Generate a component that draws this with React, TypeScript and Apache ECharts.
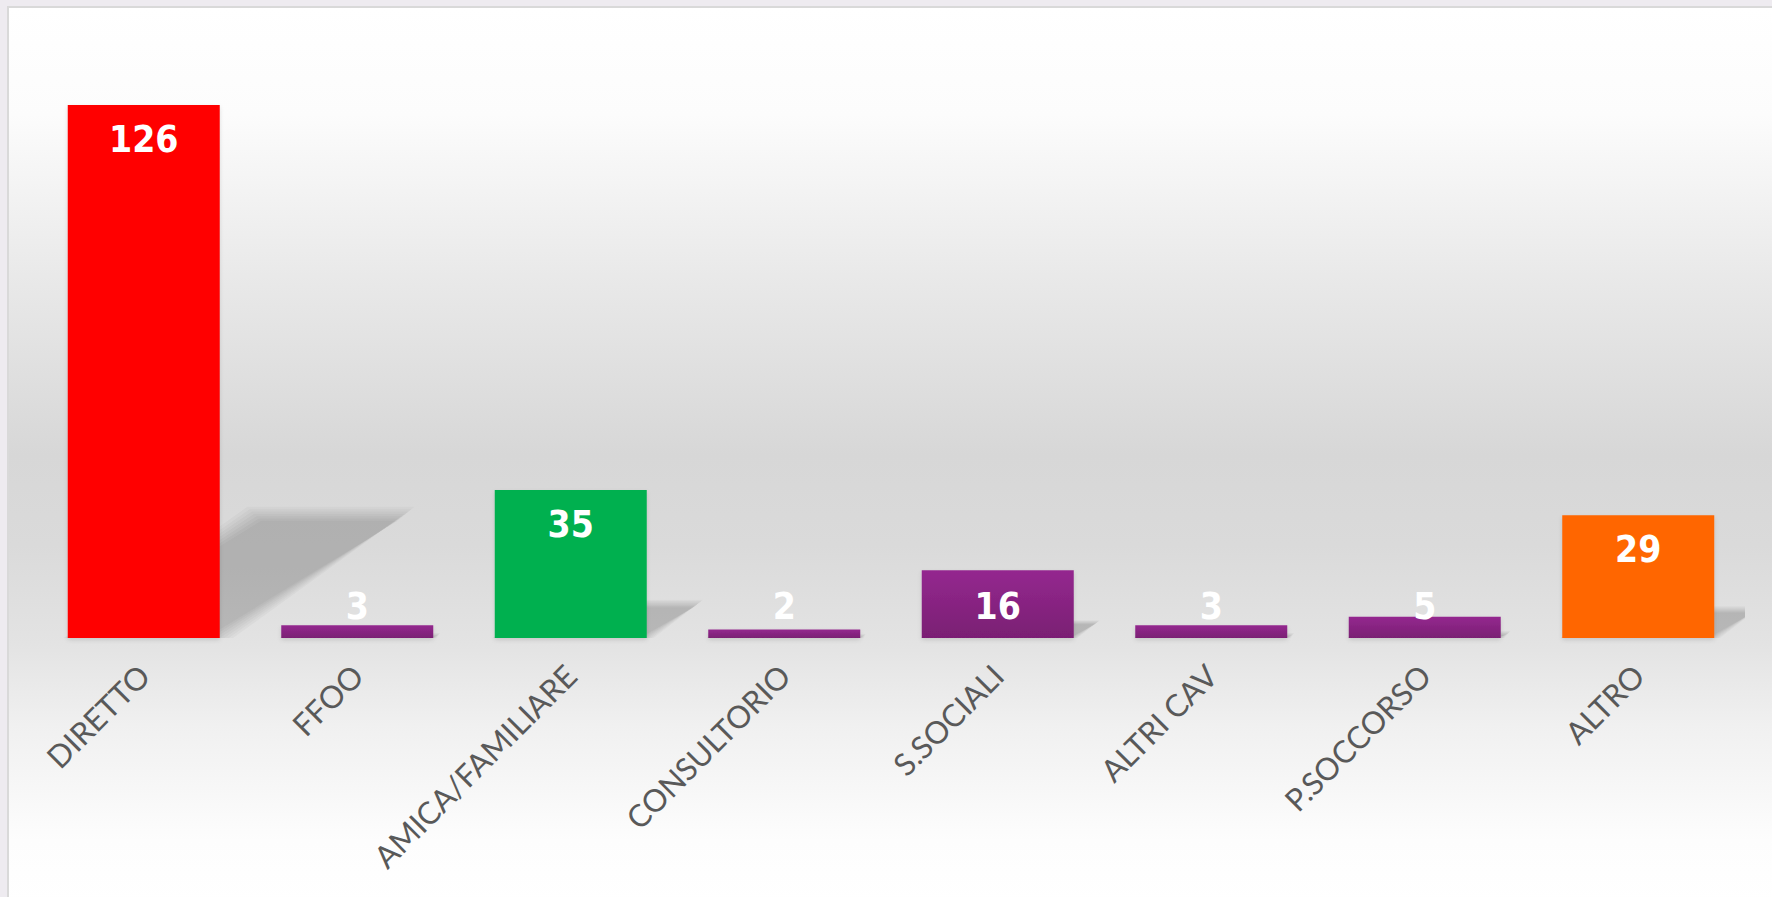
import React, { useEffect, useRef } from "react";
import * as echarts from "echarts";

const categories = [
  "DIRETTO",
  "FFOO",
  "AMICA/FAMILIARE",
  "CONSULTORIO",
  "S.SOCIALI",
  "ALTRI CAV",
  "P.SOCCORSO",
  "ALTRO",
];
const values = [126, 3, 35, 2, 16, 3, 5, 29];
const barColorKeys = ["red", "purple", "green", "purple", "purple", "purple", "purple", "orange"];

const W = 1772;
const H = 897;
const BAR_W = 152;

export default function App() {
  const ref = useRef<HTMLDivElement>(null);

  useEffect(() => {
    if (!ref.current) return;
    const chart = echarts.init(ref.current, undefined, { renderer: "svg" });

    const purple = new echarts.graphic.LinearGradient(0, 0, 0, 1, [
      { offset: 0, color: "#94288F" },
      { offset: 1, color: "#7A1F73" },
    ]);
    const palette: Record<string, any> = {
      red: "#FF0000",
      green: "#00B050",
      orange: "#FF6600",
      purple,
    };

    const labelFont = {
      color: "#FFFFFF",
      fontFamily: "'Liberation Sans Narrow', 'DejaVu Sans Condensed', Lato, sans-serif",
      fontWeight: "bold" as const,
      fontSize: 37,
      lineHeight: 37,
    };

    const barData = values.map((v, i) => ({
      value: v,
      itemStyle: { color: palette[barColorKeys[i]] },
      label:
        v >= 20
          ? { position: "insideTop", distance: 16 }
          : { position: "insideBottom", distance: 13 },
    }));

    const shadowData = values.map((v, i) => [i, v]);
    const LAYERS = 7;

    chart.setOption({
      animation: false,
      backgroundColor: "#EEEBF0",
      graphic: [
        {
          type: "rect",
          z: -10,
          silent: true,
          shape: { x: 8, y: 7, width: W, height: H },
          style: {
            stroke: "#D9D9D9",
            lineWidth: 2,
            fill: {
              type: "linear",
              x: 0,
              y: 0,
              x2: 0,
              y2: 1,
              colorStops: [
                { offset: 0, color: "#FFFFFF" },
                { offset: 0.12, color: "#FCFCFC" },
                { offset: 0.3, color: "#E9E9E9" },
                { offset: 0.5, color: "#D7D7D7" },
                { offset: 0.6, color: "#DADADA" },
                { offset: 0.71, color: "#E3E3E3" },
                { offset: 0.8, color: "#F0F0F0" },
                { offset: 0.93, color: "#FDFDFD" },
                { offset: 1, color: "#FFFFFF" },
              ],
            },
          },
        },
      ],
      grid: { left: 37, right: W - 1745, top: 105, bottom: H - 638, containLabel: false },
      xAxis: {
        type: "category",
        data: categories,
        axisLine: { show: false },
        axisTick: { show: false },
        axisLabel: {
          rotate: 45,
          interval: 0,
          margin: 32,
          color: "#595959",
          fontFamily: "Lato, 'Open Sans', sans-serif",
          fontSize: 31,
        },
      },
      yAxis: {
        type: "value",
        min: 0,
        max: 126,
        show: false,
        splitLine: { show: false },
      },
      series: [
        {
          type: "custom",
          z: 1,
          clip: true,
          silent: true,
          data: shadowData,
          renderItem: (params: any, api: any) => {
            const idx = api.value(0);
            const v = api.value(1);
            const base = api.coord([idx, 0]);
            const top = api.coord([idx, v]);
            const h = base[1] - top[1];
            const x = base[0];
            const dx = 0.35 * h;
            const dy = 0.233 * h;
            const blur = Math.min(14, Math.max(4, h * 0.05));
            const children = [];
            for (let k = 0; k < LAYERS; k++) {
              const e = (k / (LAYERS - 1) - 0.5) * blur;
              children.push({
                type: "polygon",
                shape: {
                  points: [
                    [x - BAR_W / 2 - e, base[1] + e * 0.3],
                    [x + BAR_W / 2 + e * 1.5, base[1] + e * 0.3],
                    [x + BAR_W / 2 + dx + e * 1.2, base[1] - dy - e],
                    [x - BAR_W / 2 + dx - e, base[1] - dy - e],
                  ],
                },
                style: { fill: "rgba(0,0,0," + (0.2 / LAYERS).toFixed(4) + ")" },
              });
            }
            return { type: "group", children };
          },
        },
        {
          type: "bar",
          z: 3,
          barWidth: BAR_W,
          data: barData,
          itemStyle: {
            shadowColor: "rgba(0,0,0,0.12)",
            shadowBlur: 4,
            shadowOffsetY: 2,
          },
          label: {
            show: true,
            ...labelFont,
          },
        },
      ],
    });

    return () => chart.dispose();
  }, []);

  return (
    <div
      ref={ref}
      style={{ position: "fixed", left: 0, top: 0, width: W, height: H }}
    />
  );
}
